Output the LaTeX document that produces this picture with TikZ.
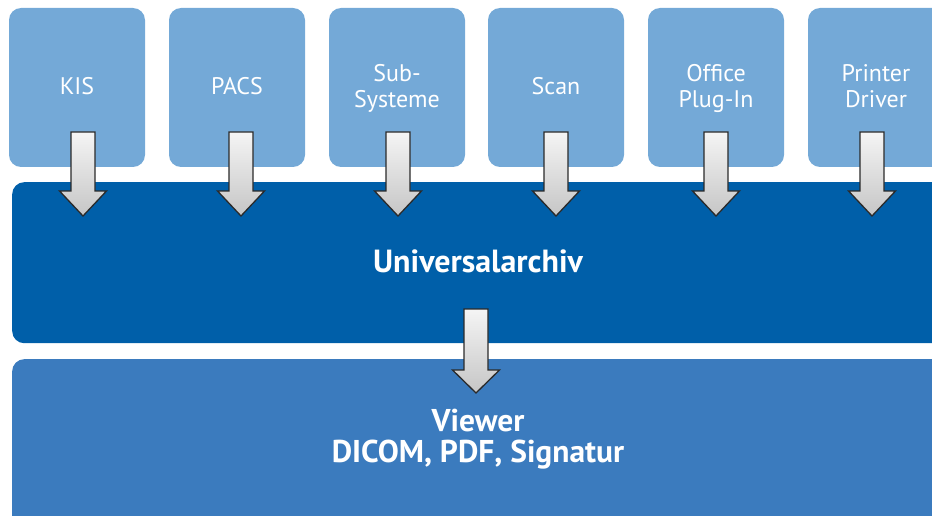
\documentclass[tikz,border=0pt]{standalone}
\usepackage{fontspec}
\setmainfont{PT Sans}
\definecolor{lightblue}{HTML}{74A9D7}
\definecolor{darkblue}{HTML}{005FA9}
\definecolor{midblue}{HTML}{3B7BBE}
\definecolor{arrowline}{HTML}{2A2A2A}
\tikzset{
  srcbox/.style={fill=lightblue, rounded corners=12pt, minimum width=136pt, minimum height=159pt, inner sep=0pt},
  srclabel/.style={text=white, align=center, inner sep=0pt, anchor=base, font=\fontsize{24}{26}\selectfont},
  bigbox/.style={rounded corners=12pt, inner sep=0pt},
  biglabel/.style={text=white, align=center, inner sep=0pt, anchor=base, font=\fontsize{32}{31}\selectfont\bfseries},
  blockarrow/.style={draw=arrowline, line width=1.3pt, line join=miter, top color=gray!8, bottom color=gray!45},
}
\newcommand{\blkarrow}[5]{% x, ytop, yhead, ytip, name
  \path[blockarrow] (#1-12,#2) -- (#1+12,#2) -- (#1+12,#3) -- (#1+23.5,#3) -- (#1,#4) -- (#1-23.5,#3) -- (#1-12,#3) -- cycle;
  \coordinate (#5) at (#1,#4);
}
\begin{document}
\begin{tikzpicture}[x=1pt,y=-1pt]
\useasboundingbox (0,0) rectangle (932,516);
\begin{scope}
\clip (0,0) rectangle (932,516);
% source boxes
\node[srcbox] (kis)     at (9+68,87.5)   {};
\node[srcbox] (pacs)    at (169+68,87.5) {};
\node[srcbox] (sub)     at (329+68,87.5) {};
\node[srcbox] (scan)    at (488+68,87.5) {};
\node[srcbox] (office)  at (648+68,87.5) {};
\node[srcbox] (printer) at (808+68,87.5) {};
\node[srclabel] (kist)     at (kis.center |- 0,95)      {KIS};
\node[srclabel] (pacst)    at (pacs.center |- 0,95)     {PACS};
\node[srclabel] (subt)     at (sub.center |- 0,108)     {Sub-\\Systeme};
\node[srclabel] (scant)    at (scan.center |- 0,95)     {Scan};
\node[srclabel] (officet)  at (office.center |- 0,108)  {Office\\Plug-In};
\node[srclabel] (printert) at (printer.center |- 0,108) {Printer\\Driver};
% archive
\node[bigbox, fill=darkblue, minimum width=960pt, minimum height=161pt, anchor=north west] (archiv) at (12,182) {};
\node[biglabel] (archivtxt) at (478,272.5) {Universalarchiv};
% viewer
\node[bigbox, fill=midblue, minimum width=960pt, minimum height=200pt, anchor=north west] (viewer) at (12,359) {};
\node[biglabel, font=\fontsize{31.5}{31}\selectfont\bfseries] (viewertxt) at (478,462) {Viewer\\DICOM, PDF, Signatur};
% arrows
\blkarrow{83}{132}{191}{216}{a1}
\blkarrow{241}{132}{191}{216}{a2}
\blkarrow{398}{132}{191}{216}{a3}
\blkarrow{556}{132}{191}{216}{a4}
\blkarrow{716}{132}{191}{216}{a5}
\blkarrow{872}{132}{191}{216}{a6}
\blkarrow{476}{309}{370}{393}{a7}
\end{scope}
\end{tikzpicture}
\end{document}
